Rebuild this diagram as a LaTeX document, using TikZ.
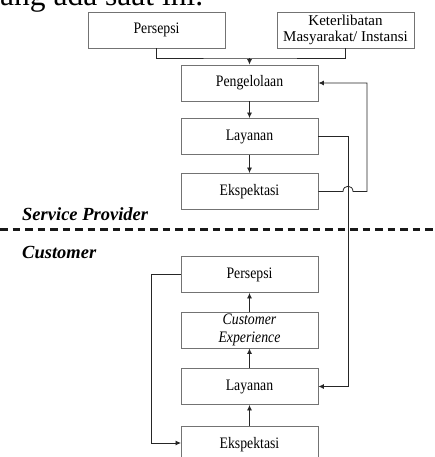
\documentclass[tikz,border=0pt]{standalone}
\usepackage{fontspec}
\setmainfont{Liberation Serif}
\newfontfamily\boxfont{Liberation Serif}[FakeStretch=0.86]
\usetikzlibrary{arrows.meta}

\tikzset{
  box/.style={draw=black!55, line width=0.9pt, fill=white, rectangle,
    minimum width=137pt, minimum height=36pt, inner sep=0pt, align=center,
    font=\boxfont\fontsize{16}{16}\selectfont},
  conn/.style={draw=black!85, line width=0.8pt},
  arr/.style={conn, -{Latex[length=5.5pt,width=5pt]}},
  sidelabel/.style={anchor=base west, inner sep=0pt,
    font=\fontsize{18.5}{20}\selectfont\bfseries\itshape},
  divider/.style={line width=3pt, dash pattern=on 7.5pt off 5pt, black!90}
}

\begin{document}
\begin{tikzpicture}[x=1pt, y=-1pt]
\useasboundingbox (0,0) rectangle (434,457);
\clip (0,0) rectangle (434,457);
\fill[white] (0,0) rectangle (434,457);

% tail of the preceding paragraph
\node[anchor=base west, inner sep=0pt, font=\fontsize{31.5}{34}\selectfont]
  (para) at (0,6) {ang ada saat ini.};

% service provider side
\node[box] (pers1) at (156.5,30) {Persepsi};
\node[box, font=\fontsize{15}{15.5}\selectfont]
           (ket)   at (345.5,30) {Keterlibatan\\Masyarakat/ Instansi};
\node[box] (peng)  at (249.5,83) {Pengelolaan};
\node[box] (lay1)  at (249.5,136.5) {Layanan};
\node[box] (eks1)  at (249.5,191.5) {Ekspektasi};

% customer side
\node[box] (pers2) at (249.5,274.5) {Persepsi};
\node[box, font=\boxfont\fontsize{16}{18}\selectfont\itshape]
           (cx)    at (249.5,330) {Customer\\Experience};
\node[box] (lay2)  at (249.5,386.5) {Layanan};
\node[box] (eks2)  at (249.5,444.5) {Ekspektasi};

% section labels and divider
\node[sidelabel] (sp)   at (22,220) {Service Provider};
\node[sidelabel] (cust) at (22,258) {Customer};
\coordinate (dl) at (0,229);
\coordinate (dr) at (434,229);
\draw[divider] (dl) -- (dr);

% inputs merging into Pengelolaan
\coordinate (join) at (249.5,58);
\draw[conn] (pers1.south) |- (join) -| (ket.south);
\draw[arr] (join) -- (peng.north);

% provider chain
\draw[arr] (peng.south) -- (lay1.north);
\draw[arr] (lay1.south) -- (eks1.north);

% service delivered to the customer
\coordinate (r1) at (348,136.5);
\coordinate (r2) at (348,386.5);
\draw[arr] (lay1.east) -- (r1) -- (r2) -- (lay2.east);

% feedback from Ekspektasi to Pengelolaan, hopping over the service line
\coordinate (h1) at (343,191.5);
\coordinate (h2) at (353,191.5);
\coordinate (f1) at (367,191.5);
\coordinate (f2) at (367,83);
\draw[arr] (eks1.east) -- (h1) .. controls (343,184.5) and (353,184.5) .. (h2)
  -- (f1) -- (f2) -- (peng.east);

% customer chain
\draw[arr] (eks2.north) -- (lay2.south);
\draw[arr] (lay2.north) -- (cx.south);
\draw[arr] (cx.north) -- (pers2.south);

% loop from Persepsi back to Ekspektasi
\coordinate (l1) at (151,274.5);
\coordinate (l2) at (151,443);
\coordinate (l3) at (181,443);
\draw[arr] (pers2.west) -- (l1) -- (l2) -- (l3);
\end{tikzpicture}
\end{document}
